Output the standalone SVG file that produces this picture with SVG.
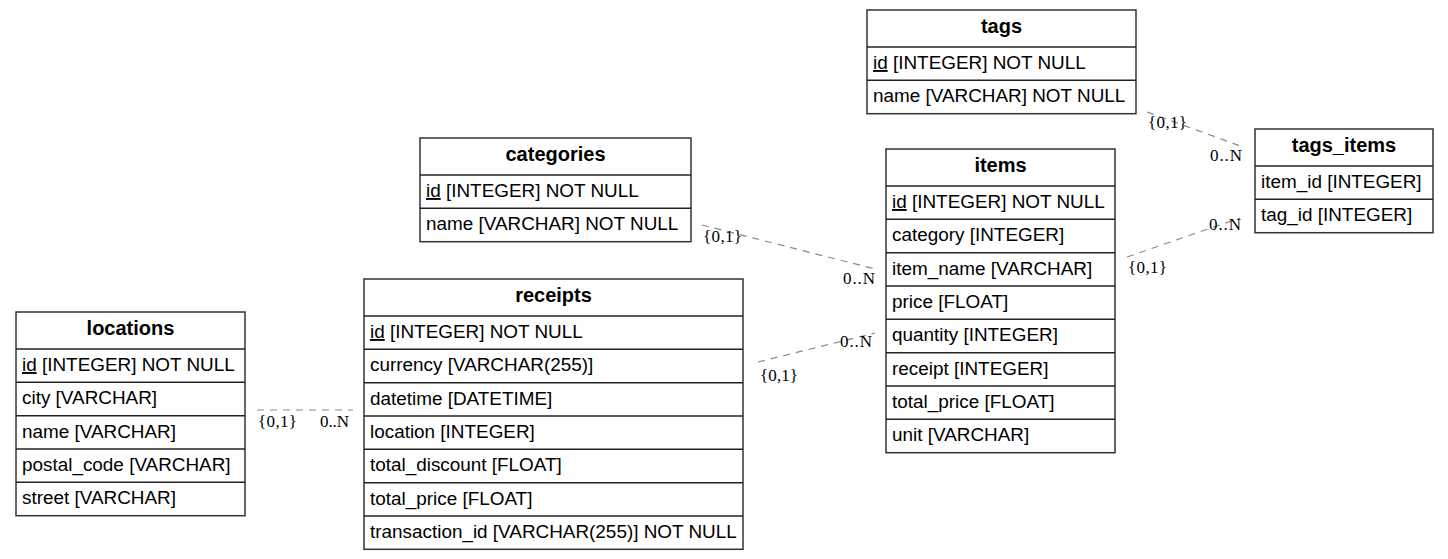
<svg xmlns="http://www.w3.org/2000/svg" width="1448" height="559" viewBox="0 0 1448 559">
<style>
.box{fill:#fff;stroke:#333;stroke-width:1.5}
.sep{stroke:#222;stroke-width:1.5}
.hd{font-family:"Liberation Sans",Arial,sans-serif;font-weight:bold;font-size:20px;fill:#000;text-anchor:middle}
.rw{font-family:"Liberation Sans",Arial,sans-serif;font-size:18.9px;fill:#000}
.pk{text-decoration:underline}
.cn{fill:none;stroke:#888;stroke-width:1.2;stroke-dasharray:7,6}
.lb{font-family:"Liberation Serif","Times New Roman",serif;font-size:17px;fill:#000}
</style>
<rect width="1448" height="559" fill="#fff"/>
<g id="connectors">
<line class="cn" x1="1147" y1="112" x2="1243" y2="147"/>
<text class="lb" x="1148" y="128" textLength="39" lengthAdjust="spacing">{0,1}</text>
<text class="lb" x="1210" y="161" textLength="32" lengthAdjust="spacing">0..N</text>
<line class="cn" x1="1127" y1="257" x2="1240" y2="218"/>
<text class="lb" x="1209" y="230" textLength="32" lengthAdjust="spacing">0..N</text>
<text class="lb" x="1128" y="273" textLength="39" lengthAdjust="spacing">{0,1}</text>
<line class="cn" x1="702" y1="225" x2="875" y2="269"/>
<text class="lb" x="703" y="242" textLength="39" lengthAdjust="spacing">{0,1}</text>
<text class="lb" x="843" y="284" textLength="32" lengthAdjust="spacing">0..N</text>
<line class="cn" x1="758" y1="362" x2="875" y2="333"/>
<text class="lb" x="840" y="347" textLength="32" lengthAdjust="spacing">0..N</text>
<text class="lb" x="760" y="381" textLength="38" lengthAdjust="spacing">{0,1}</text>
<line class="cn" x1="257" y1="410" x2="353" y2="410"/>
<text class="lb" x="258" y="427" textLength="39" lengthAdjust="spacing">{0,1}</text>
<text class="lb" x="320" y="427" textLength="29" lengthAdjust="spacing">0..N</text>
</g>
<g id="tags">
<rect class="box" x="867" y="10" width="269" height="103.7"/>
<line class="sep" x1="867" y1="47" x2="1136" y2="47"/>
<line class="sep" x1="867" y1="80.3" x2="1136" y2="80.3"/>
<text class="hd" x="1001.5" y="33">tags</text>
<text class="rw" x="873" y="69"><tspan class="pk">id</tspan> [INTEGER] NOT NULL</text>
<text class="rw" x="873" y="102.3">name [VARCHAR] NOT NULL</text>
</g>
<g id="tags_items">
<rect class="box" x="1255" y="129" width="178" height="103.7"/>
<line class="sep" x1="1255" y1="166" x2="1433" y2="166"/>
<line class="sep" x1="1255" y1="199.3" x2="1433" y2="199.3"/>
<text class="hd" x="1344" y="152">tags_items</text>
<text class="rw" x="1261" y="188">item_id [INTEGER]</text>
<text class="rw" x="1261" y="221.3">tag_id [INTEGER]</text>
</g>
<g id="categories">
<rect class="box" x="420" y="138" width="271" height="103.7"/>
<line class="sep" x1="420" y1="175" x2="691" y2="175"/>
<line class="sep" x1="420" y1="208.3" x2="691" y2="208.3"/>
<text class="hd" x="555.5" y="161">categories</text>
<text class="rw" x="426" y="197"><tspan class="pk">id</tspan> [INTEGER] NOT NULL</text>
<text class="rw" x="426" y="230.3">name [VARCHAR] NOT NULL</text>
</g>
<g id="locations">
<rect class="box" x="16" y="312" width="229" height="203.7"/>
<line class="sep" x1="16" y1="349" x2="245" y2="349"/>
<line class="sep" x1="16" y1="382.3" x2="245" y2="382.3"/>
<line class="sep" x1="16" y1="415.7" x2="245" y2="415.7"/>
<line class="sep" x1="16" y1="449" x2="245" y2="449"/>
<line class="sep" x1="16" y1="482.3" x2="245" y2="482.3"/>
<text class="hd" x="130.5" y="335">locations</text>
<text class="rw" x="22" y="371"><tspan class="pk">id</tspan> [INTEGER] NOT NULL</text>
<text class="rw" x="22" y="404.3">city [VARCHAR]</text>
<text class="rw" x="22" y="437.7">name [VARCHAR]</text>
<text class="rw" x="22" y="471">postal_code [VARCHAR]</text>
<text class="rw" x="22" y="504.3">street [VARCHAR]</text>
</g>
<g id="receipts">
<rect class="box" x="364" y="279" width="379" height="270.3"/>
<line class="sep" x1="364" y1="316" x2="743" y2="316"/>
<line class="sep" x1="364" y1="349.3" x2="743" y2="349.3"/>
<line class="sep" x1="364" y1="382.7" x2="743" y2="382.7"/>
<line class="sep" x1="364" y1="416" x2="743" y2="416"/>
<line class="sep" x1="364" y1="449.3" x2="743" y2="449.3"/>
<line class="sep" x1="364" y1="482.7" x2="743" y2="482.7"/>
<line class="sep" x1="364" y1="516" x2="743" y2="516"/>
<text class="hd" x="553.5" y="302">receipts</text>
<text class="rw" x="370" y="338"><tspan class="pk">id</tspan> [INTEGER] NOT NULL</text>
<text class="rw" x="370" y="371.3">currency [VARCHAR(255)]</text>
<text class="rw" x="370" y="404.7">datetime [DATETIME]</text>
<text class="rw" x="370" y="438">location [INTEGER]</text>
<text class="rw" x="370" y="471.3">total_discount [FLOAT]</text>
<text class="rw" x="370" y="504.7">total_price [FLOAT]</text>
<text class="rw" x="370" y="538">transaction_id [VARCHAR(255)] NOT NULL</text>
</g>
<g id="items">
<rect class="box" x="886" y="149" width="229" height="303.7"/>
<line class="sep" x1="886" y1="186" x2="1115" y2="186"/>
<line class="sep" x1="886" y1="219.3" x2="1115" y2="219.3"/>
<line class="sep" x1="886" y1="252.7" x2="1115" y2="252.7"/>
<line class="sep" x1="886" y1="286" x2="1115" y2="286"/>
<line class="sep" x1="886" y1="319.3" x2="1115" y2="319.3"/>
<line class="sep" x1="886" y1="352.7" x2="1115" y2="352.7"/>
<line class="sep" x1="886" y1="386" x2="1115" y2="386"/>
<line class="sep" x1="886" y1="419.3" x2="1115" y2="419.3"/>
<text class="hd" x="1000.5" y="172">items</text>
<text class="rw" x="892" y="208"><tspan class="pk">id</tspan> [INTEGER] NOT NULL</text>
<text class="rw" x="892" y="241.3">category [INTEGER]</text>
<text class="rw" x="892" y="274.7">item_name [VARCHAR]</text>
<text class="rw" x="892" y="308">price [FLOAT]</text>
<text class="rw" x="892" y="341.3">quantity [INTEGER]</text>
<text class="rw" x="892" y="374.7">receipt [INTEGER]</text>
<text class="rw" x="892" y="408">total_price [FLOAT]</text>
<text class="rw" x="892" y="441.3">unit [VARCHAR]</text>
</g>
</svg>
